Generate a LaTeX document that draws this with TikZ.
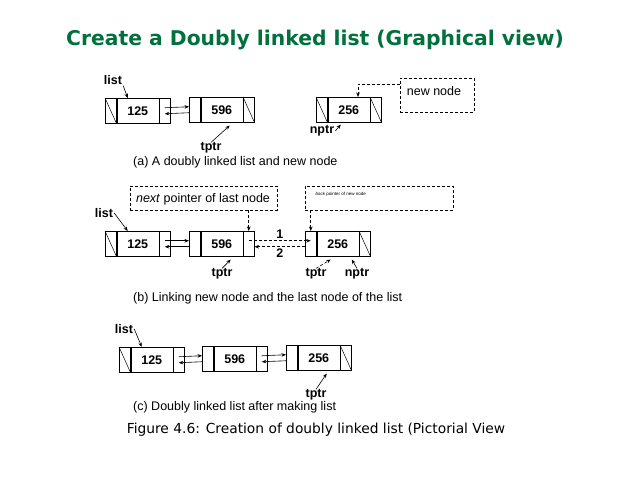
\documentclass[tikz,border=0pt]{standalone}
\usepackage{fontspec}
\setmainfont{Liberation Sans}
\newfontfamily\ttl{DejaVu Sans}
\usetikzlibrary{arrows.meta}
\definecolor{ttlgreen}{RGB}{0,112,60}
\tikzset{
 cell/.style={draw,line width=0.5pt,minimum height=25,inner sep=0,font=\bfseries\fontsize{12.5}{12.5}\selectfont},
 ar/.style={-{Stealth[length=4.5pt,width=3.5pt]},line width=0.6pt},
 dar/.style={ar,densely dashed},
 dbox/.style={draw,densely dashed,line width=0.5pt,anchor=north west,inner sep=0},
 lab/.style={font=\bfseries\fontsize{12.5}{12.5}\selectfont,inner sep=1},
 capt/.style={font=\fontsize{12.5}{12.5}\selectfont,anchor=west,inner sep=0}
}
\newcommand\dn[4]{%
 \node[cell,minimum width=11,anchor=north west] (#1l) at (#2,#3) {};
 \node[cell,minimum width=42,anchor=west] (#1) at (#1l.east) {#4};
 \node[cell,minimum width=11,anchor=west] (#1r) at (#1.east) {};}
\newcommand\nill[1]{\draw[line width=0.5pt] (#1l.north west)--(#1l.south east);}
\newcommand\nilr[1]{\draw[line width=0.5pt] (#1r.north west)--(#1r.south east);}
\newcommand\lk[2]{%
 \draw[ar] ([yshift=3]#1r.center) -- ([yshift=3]#2l.west);
 \draw[ar] ([yshift=-3]#2l.west) -- ([yshift=-3]#1r.center);}
\begin{document}
\begin{tikzpicture}[x=1pt,y=-1pt]
\useasboundingbox (0,0) rectangle (638,478);
\node[font=\ttl\bfseries\fontsize{20.3}{21}\selectfont,text=ttlgreen] (title) at (315,40) {Create a Doubly linked list (Graphical view)};
% (a)
\dn{a1}{105}{98}{125}\nill{a1}
\dn{a2}{189}{97}{596}\nilr{a2}
\lk{a1}{a2}
\dn{a3}{316}{97}{256}\nill{a3}\nilr{a3}
\node[lab] (alist) at (113,80) {list};
\draw[ar] (alist.south east) -- ([xshift=-10]a1.north);
\node[lab] (atptr) at (211,148) {tptr};
\draw[ar] ([yshift=-1]atptr.north) -- ([xshift=8,yshift=-3]a2.south);
\node[lab] (anptr) at (322,131) {nptr};
\draw[ar] (anptr.east) -- ([xshift=-8,yshift=-2]a3.south);
\node[dbox,minimum width=74,minimum height=34] (anew) at (400,78) {};
\node[font=\fontsize{12.5}{12.5}\selectfont] at (434,91) {new node};
\coordinate (ac) at (358,84);
\draw[dar] (anew.west |- ac) -- (ac) -- (ac |- a3.north);
\node[capt] (capa) at (133,162) {(a) A doubly linked list and new node};
% (b)
\dn{b1}{105}{231}{125}\nill{b1}
\dn{b2}{189}{231}{596}
\lk{b1}{b2}
\dn{b3}{305}{231}{256}\nilr{b3}
\node[lab] (blist) at (104,213) {list};
\draw[ar] (blist.east) -- ([xshift=-10]b1.north);
\node[dbox,minimum width=147,minimum height=24] (bnext) at (130,186) {};
\node[font=\fontsize{12.5}{12.5}\selectfont] at (203,199) {\textit{next} pointer of last node};
\node[dbox,minimum width=148,minimum height=24] (bback) at (305,186) {};
\node[font=\fontsize{4.5}{5}\selectfont,anchor=west] at (312,194) {\textit{back} pointer of new node};
\draw[dar] (bnext.south -| b2r) -- (b2r.north);
\draw[dar] (bback.south -| b3l) -- (b3l.north);
\draw[dar] ([yshift=3]b2r.center) -- node[lab,above=1] {1} ([yshift=3]b3l.center);
\draw[dar] ([yshift=-3]b3l.west) -- node[lab,below=1] {2} ([yshift=-3]b2r.east);
\node[lab] (btptr) at (222,274) {tptr};
\draw[ar] ([yshift=-1]btptr.north) -- ([xshift=9,yshift=-3]b2.south);
\node[lab] (btptr2) at (316,274) {tptr};
\draw[dar] ([yshift=-1]btptr2.north) -- ([xshift=-7,yshift=-3]b3.south);
\node[lab] (bnptr) at (357,274) {nptr};
\draw[ar] ([yshift=-1]bnptr.north) -- ([xshift=14,yshift=-3]b3.south);
\node[capt] (capb) at (133,298) {(b) Linking new node and the last node of the list};
% (c)
\dn{c1}{119}{347}{125}\nill{c1}
\dn{c2}{202}{346}{596}
\lk{c1}{c2}
\dn{c3}{286}{345}{256}\nilr{c3}
\lk{c2}{c3}
\node[lab] (clist) at (124,329) {list};
\draw[ar] (clist.east) -- ([xshift=-10]c1.north);
\node[lab] (ctptr) at (316,395) {tptr};
\draw[ar] ([yshift=-1]ctptr.north) -- ([xshift=8,yshift=-3]c3.south);
\node[capt] (capc) at (133,407) {(c) Doubly linked list after making list};
\node[font=\ttl\fontsize{13.8}{15}\selectfont] (fig) at (316,430) {Figure 4.6: Creation of doubly linked list (Pictorial View};
\end{tikzpicture}
\end{document}
